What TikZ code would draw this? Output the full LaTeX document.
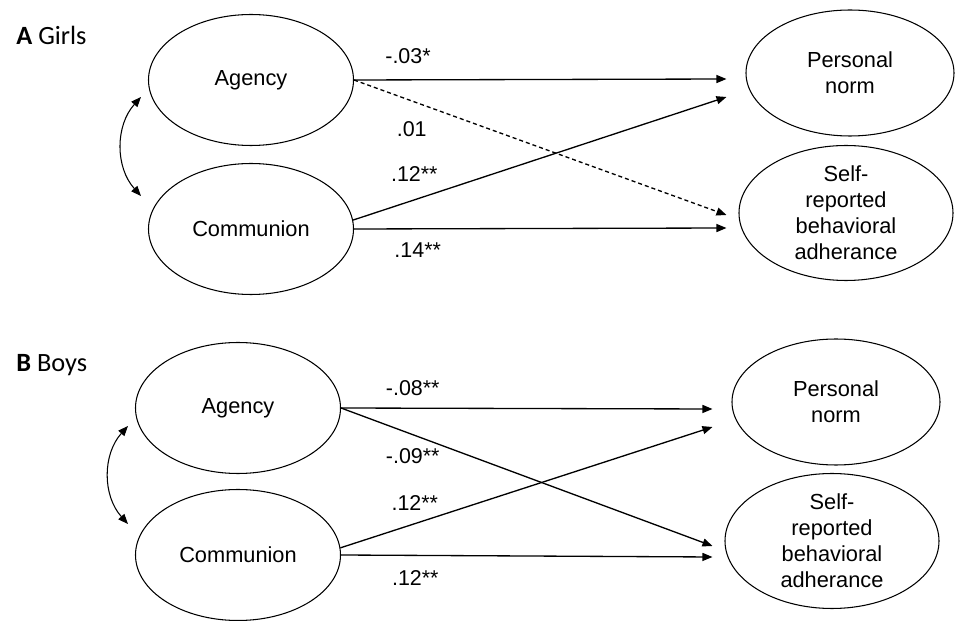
\documentclass[tikz,border=0pt]{standalone}
\usepackage{fontspec}
\setmainfont{Liberation Sans}
\newfontfamily\panelfont{Carlito}
\usetikzlibrary{positioning,shapes.geometric,arrows.meta}

\tikzset{
  latent/.style={ellipse, draw, line width=0.6pt, inner sep=0pt, minimum width=4.1cm, minimum height=2.62cm, align=center, font=\fontsize{12.4}{14.8}\selectfont},
  outcome/.style={latent, minimum width=4.16cm, minimum height=2.52cm},
  selfrep/.style={latent, minimum width=4.28cm, minimum height=2.70cm, inner ysep=-0.12cm},
  effect/.style={line width=0.75pt, -{Triangle[length=0.2cm,width=0.16cm]}},
  covar/.style={line width=0.6pt, {Triangle[length=0.2cm,width=0.16cm]}-{Triangle[length=0.2cm,width=0.16cm]}},
  coef/.style={font=\fontsize{12.2}{14}\selectfont, inner sep=0pt},
  panel/.style={anchor=base west, inner sep=0pt, font=\panelfont\fontsize{15}{18}\selectfont}
}

\begin{document}
\begin{tikzpicture}[on grid]
\useasboundingbox (0,0) rectangle (19.1,-12.42);

% A Girls
\node[panel] (lblA) at (0.32,-0.90) {\textbf{A} Girls};
\node[latent] (agA) at (5.02,-1.60) {Agency};
\node[latent, below=2.98cm of agA] (comA) {Communion};
\node[outcome, above right=0.14cm and 11.98cm of agA] (pnA) {Personal\\norm};
\node[selfrep, below left=2.80cm and 0.08cm of pnA] (srA) {Self-\\reported\\behavioral\\adherance};
\coordinate (tA1) at ([xshift=-0.38cm,yshift=-0.12cm]pnA.west);
\coordinate (tA2) at ([xshift=-0.38cm,yshift=-0.48cm]pnA.west);
\coordinate (tA3) at ([xshift=-0.24cm,yshift=-0.04cm]srA.west);
\coordinate (tA4) at ([xshift=-0.24cm,yshift=-0.30cm]srA.west);
\coordinate (cA1) at ([xshift=-0.14cm,yshift=-0.34cm]agA.west);
\coordinate (cA2) at ([xshift=-0.14cm,yshift=0.66cm]comA.west);
\draw[effect] (agA.east) -- node[coef, pos=0.145, yshift=0.48cm] (wA1) {-.03*} (tA1);
\draw[effect, dashed, dash pattern=on 2.3pt off 1.7pt] (agA.east) -- node[coef, pos=0.155, yshift=-0.57cm] (wA2) {.01} (tA3);
\draw[effect] (comA.5) -- node[coef, pos=0.164, yshift=0.51cm] (wA3) {.12**} (tA2);
\draw[effect] (comA.east) -- node[coef, pos=0.171, yshift=-0.42cm] (wA4) {.14**} (tA4);
\draw[covar] (cA1) to[bend right=42] (cA2);

% B Boys
\node[panel] (lblB) at (0.32,-7.44) {\textbf{B} Boys};
\node[latent] (agB) at (4.76,-8.16) {Agency};
\node[latent, below=2.94cm of agB] (comB) {Communion};
\node[outcome, above right=0.12cm and 11.96cm of agB] (pnB) {Personal\\norm};
\node[selfrep, below left=2.78cm and 0.08cm of pnB] (srB) {Self-\\reported\\behavioral\\adherance};
\coordinate (tB1) at ([xshift=-0.38cm,yshift=-0.14cm]pnB.west);
\coordinate (tB2) at ([xshift=-0.38cm,yshift=-0.50cm]pnB.west);
\coordinate (tB3) at ([xshift=-0.24cm,yshift=-0.10cm]srB.west);
\coordinate (tB4) at ([xshift=-0.24cm,yshift=-0.32cm]srB.west);
\coordinate (cB1) at ([xshift=-0.14cm,yshift=-0.36cm]agB.west);
\coordinate (cB2) at ([xshift=-0.14cm,yshift=0.62cm]comB.west);
\draw[effect] (agB.east) -- node[coef, pos=0.193, yshift=0.40cm] (wB1) {-.08**} (tB1);
\draw[effect] (agB.east) -- node[coef, pos=0.193, yshift=-0.42cm] (wB2) {-.09**} (tB3);
\draw[effect] (comB.4) -- node[coef, pos=0.2, yshift=0.41cm] (wB3) {.12**} (tB2);
\draw[effect] (comB.east) -- node[coef, pos=0.2, yshift=-0.46cm] (wB4) {.12**} (tB4);
\draw[covar] (cB1) to[bend right=42] (cB2);
\end{tikzpicture}
\end{document}
